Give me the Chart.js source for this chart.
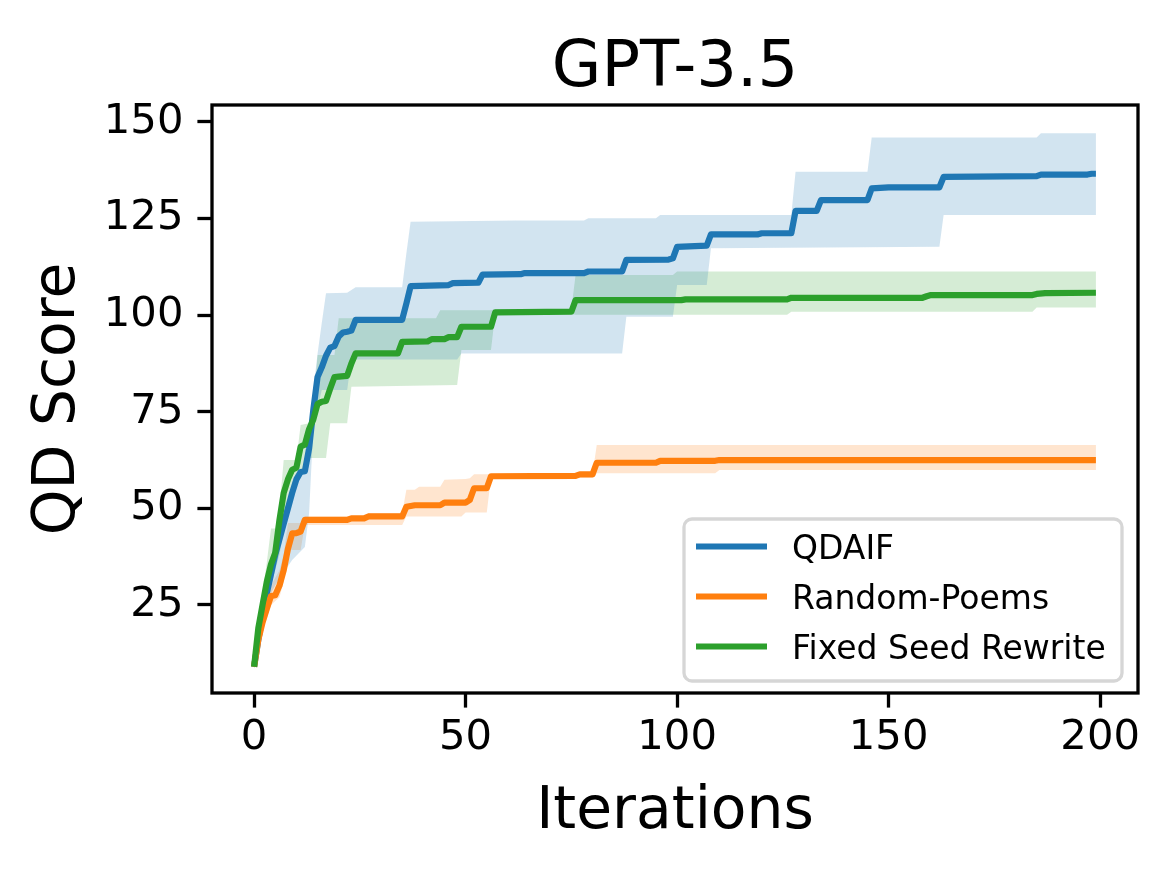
<!DOCTYPE html>
<html>
<head>
<meta charset="utf-8">
<script src="https://cdn.jsdelivr.net/npm/chart.js@4.4.0/dist/chart.umd.min.js"></script>
<style>
  body { margin: 0; background: #fff; }
  canvas { display: block; }
</style>
</head>
<body>
<canvas id="chart" width="1170" height="870"></canvas>
<script>
// [iteration, QD score] corner points
const qdaifMean = [[0,9],[1,16],[2,22],[3,28],[4,33],[5,38],[6,42],[7,46],[8,50],[9,54],[10,57.5],[11,59.4],[12,59.6],[13,65.5],[14,75.5],[15,84],[16,86.5],[17,89.5],[18,91.6],[19,92],[20,94.5],[21,95.5],[22,95.7],[23,96],[24,98.8],[35,98.8],[36,103],[37,107.5],[46,107.8],[47,108.3],[53,108.4],[54,110.5],[63,110.6],[64,110.9],[78,110.9],[79,111.3],[87,111.3],[88,114.3],[98,114.4],[99,114.7],[100,117.7],[107,118],[108,120.9],[119,120.9],[120,121.2],[127,121.2],[128,127],[133,127],[134,129.8],[145,129.8],[146,132.8],[150,133.1],[162,133.1],[163,135.8],[185,136],[186,136.4],[197,136.4],[198,136.6],[199,136.6]];
const qdaifUpper = [[0,9],[2,23],[4,36],[6,46],[8,52],[10,58],[12,61],[13,70],[14,80.6],[15,90],[16,98],[17,105.7],[22,105.8],[23,106.5],[24,107.2],[35,107.2],[36,116],[37,124.2],[62,124.5],[78,124.5],[79,125.1],[95,125.1],[96,125.9],[127,125.9],[128,137.1],[145,137.1],[146,146],[185,146],[186,147.1],[199,147.1]];
const qdaifLower = [[0,8.5],[2,18],[4,28],[6,32],[8,35],[9,36.6],[12,40],[13,48.7],[14,71],[15,76],[16,80.6],[22,80.6],[23,88.5],[48,88.5],[49,90.1],[87,90.1],[88,99.6],[99,99.6],[100,107.8],[107,107.8],[108,117.3],[162,117.7],[163,125.9],[199,125.9]];

const randomMean = [[0,9],[1,16],[2,20.5],[3,24],[4,27.3],[5,27.5],[6,30],[7,34],[8,39.5],[9,43.5],[10,43.6],[11,44],[12,47],[22,47],[23,47.4],[26,47.4],[27,47.9],[35,47.9],[36,50.4],[38,50.8],[44,50.8],[45,51.5],[50,51.5],[51,52.2],[52,55.2],[55,55.2],[56,58.3],[76,58.4],[77,58.8],[80,58.8],[81,61.8],[95,61.8],[96,62.3],[109,62.3],[110,62.5],[199,62.5]];
const randomUpper = [[0,9],[2,24],[4,30],[6,34],[7,38],[8,46.2],[11,46.2],[12,47.9],[26,47.9],[27,48.7],[35,48.7],[36,54.8],[38,54.8],[39,55.6],[44,55.6],[45,57.4],[50,57.6],[51,57.8],[52,58.8],[80,58.8],[81,66.4],[199,66.4]];
const randomLower = [[0,8.5],[2,18],[4,25],[6,27],[7,31],[8,39.2],[11,39.2],[12,45.7],[35,45.7],[36,47.9],[49,47.9],[50,48.9],[55,48.9],[56,58],[80,58],[81,59.1],[109,59.1],[110,59.9],[199,59.9]];

const fixedMean = [[0,9],[1,19],[2,25],[3,31],[4,35.5],[5,38.5],[6,47],[7,54],[8,57.5],[9,60],[10,60.5],[11,66],[12,66.5],[13,70.5],[14,73],[15,77],[16,77.6],[17,77.8],[18,81],[19,84],[20,84.1],[22,84.3],[23,87.5],[24,90.1],[34,90.1],[35,93.1],[41,93.2],[42,93.8],[45,93.8],[46,94.3],[48,94.3],[49,97],[56,97],[57,100.7],[75,100.9],[76,103.9],[101,103.9],[102,104.1],[126,104.1],[127,104.5],[158,104.5],[159,104.9],[160,105.2],[184,105.2],[185,105.5],[187,105.7],[199,105.8]];
const fixedUpper = [[0,9],[1,20],[2,28],[3,36],[4,44.8],[5,44.8],[6,50],[7,62.5],[10,62.5],[11,71.6],[13,72],[14,76],[15,89.7],[19,89.7],[20,99.2],[43,99.2],[44,101.3],[56,101.3],[57,101.5],[75,101.5],[76,110.4],[99,110.4],[100,111.3],[199,111.3]];
const fixedLower = [[0,8.5],[2,20],[4,30],[6,38],[8,50],[10,56],[12,60],[13,63],[17,63],[18,72],[22,72],[23,81.5],[48,81.9],[49,91],[56,91],[57,100.3],[75,100.3],[76,100.1],[126,100.1],[127,100.9],[184,100.9],[185,102],[199,102]];

const seriesNames = ['QDAIF', 'Random-Poems', 'Fixed Seed Rewrite'];
const xTicks = [0, 50, 100, 150, 200];
const yTicks = [25, 50, 75, 100, 125, 150];

const colors = ['31,119,180', '255,127,14', '44,160,44'];
const font = 'DejaVu Sans';

const toXY = pts => pts.map(([x, y]) => ({ x, y }));

const means = [qdaifMean, randomMean, fixedMean];
const bands = [[qdaifUpper, qdaifLower], [randomUpper, randomLower], [fixedUpper, fixedLower]];

const datasets = [];
bands.forEach(([up, low], i) => {
  datasets.push({
    data: toXY(up),
    fill: '+1',
    backgroundColor: `rgba(${colors[i]},0.2)`,
    borderColor: 'transparent',
    borderWidth: 0,
    pointRadius: 0,
    order: 10
  });
  datasets.push({
    data: toXY(low),
    fill: false,
    borderColor: 'transparent',
    borderWidth: 0,
    pointRadius: 0,
    order: 10
  });
});
means.forEach((m, i) => {
  datasets.push({
    label: seriesNames[i],
    data: toXY(m),
    fill: false,
    borderColor: `rgb(${colors[i]})`,
    borderWidth: 6.2,
    borderJoinStyle: 'round',
    pointRadius: 0,
    order: 3 - i
  });
});

// axes frame, title and legend drawn the matplotlib way
const decorations = {
  id: 'decorations',
  afterDatasetsDraw(chart) {
    const { ctx, chartArea: a } = chart;
    ctx.save();
    ctx.strokeStyle = '#000';
    ctx.lineWidth = 3.3;
    ctx.strokeRect(a.left, a.top, a.right - a.left, a.bottom - a.top);
    ctx.restore();
  },
  afterDraw(chart) {
    const { ctx } = chart;
    ctx.save();
    ctx.fillStyle = '#000';
    ctx.font = `64px "${font}"`;
    ctx.textAlign = 'center';
    ctx.textBaseline = 'alphabetic';
    ctx.fillText('GPT-3.5', 675, 86);

    // legend box
    const bx = 684, by = 519, bw = 438, bh = 162, r = 8;
    ctx.beginPath();
    ctx.moveTo(bx + r, by);
    ctx.arcTo(bx + bw, by, bx + bw, by + bh, r);
    ctx.arcTo(bx + bw, by + bh, bx, by + bh, r);
    ctx.arcTo(bx, by + bh, bx, by, r);
    ctx.arcTo(bx, by, bx + bw, by, r);
    ctx.closePath();
    ctx.fillStyle = 'rgba(255,255,255,0.8)';
    ctx.fill();
    ctx.strokeStyle = '#d6d6d6';
    ctx.lineWidth = 3.3;
    ctx.stroke();

    ctx.font = `33px "${font}"`;
    ctx.textAlign = 'left';
    seriesNames.forEach((name, i) => {
      const y = 546.5 + i * 50;
      ctx.strokeStyle = `rgb(${colors[i]})`;
      ctx.lineWidth = 6;
      ctx.beginPath();
      ctx.moveTo(696, y);
      ctx.lineTo(767, y);
      ctx.stroke();
      ctx.fillStyle = '#000';
      ctx.fillText(name, 792, y + 12.5);
    });
    ctx.restore();
  }
};

const axisGrid = {
  drawOnChartArea: false,
  drawTicks: true,
  tickLength: 14.6,
  tickWidth: 3.3,
  tickColor: '#000'
};

new Chart(document.getElementById('chart'), {
  type: 'line',
  data: { datasets },
  options: {
    responsive: false,
    animation: false,
    devicePixelRatio: 1,
    layout: { padding: { top: 105, right: 32, bottom: 0, left: 0 } },
    plugins: {
      legend: { display: false },
      tooltip: { enabled: false },
      title: { display: false }
    },
    scales: {
      x: {
        type: 'linear',
        min: -9.95,
        max: 208.95,
        afterBuildTicks: s => { s.ticks = xTicks.map(v => ({ value: v })); },
        afterFit: s => { s.height = 177; },
        grid: axisGrid,
        border: { display: false },
        ticks: { color: '#000', font: { family: font, size: 41.7 }, padding: 6, maxRotation: 0, autoSkip: false },
        title: { display: true, text: 'Iterations', color: '#000', font: { family: font, size: 58.3 }, padding: { top: 0, bottom: 22 } }
      },
      y: {
        min: 2.2,
        max: 154.4,
        afterBuildTicks: s => { s.ticks = yTicks.map(v => ({ value: v })); },
        afterFit: s => { s.width = 212; },
        grid: axisGrid,
        border: { display: false },
        ticks: { color: '#000', font: { family: font, size: 41.7 }, padding: 14 },
        title: { display: true, text: 'QD Score', color: '#000', font: { family: font, size: 58.3 }, padding: { top: 24, bottom: 0 } }
      }
    }
  },
  plugins: [decorations]
});
</script>
</body>
</html>
